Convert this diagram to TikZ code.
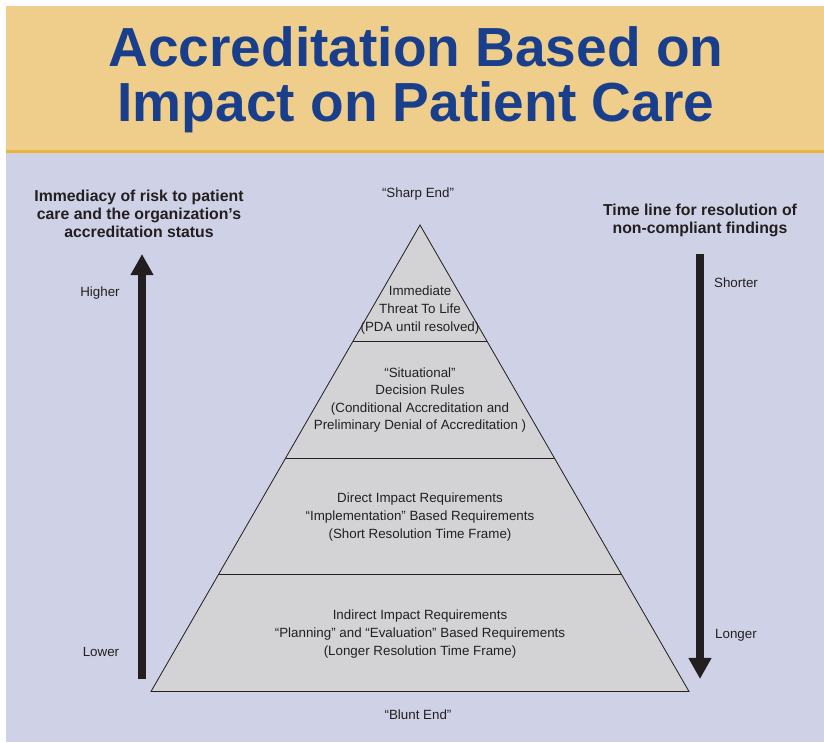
\documentclass[tikz,border=0pt]{standalone}
\usepackage{fontspec}
\setmainfont{Liberation Sans}
\usetikzlibrary{arrows.meta,calc}
\definecolor{bandgold}{RGB}{239,205,138}
\definecolor{rulegold}{RGB}{232,181,58}
\definecolor{panel}{RGB}{207,209,230}
\definecolor{tiergray}{RGB}{211,211,213}
\definecolor{titleblue}{RGB}{24,62,140}
\definecolor{ink}{RGB}{35,31,32}
\tikzset{
    titletext/.style={align=center, font=\fontsize{47}{47}\selectfont\bfseries, text=titleblue, inner sep=0},
    heading/.style={align=center, font=\fontsize{13.5}{15.4}\selectfont\bfseries, text=ink, inner sep=0},
    tiertext/.style={align=center, font=\fontsize{11.4}{15}\selectfont, text=ink, inner sep=0},
    tag/.style={font=\fontsize{11.4}{14}\selectfont, text=ink, inner sep=0},
    tier/.style={fill=tiergray, draw=ink, line width=0.7pt, line join=miter},
    bigarrow/.style={line width=6.4pt, ink, -{Triangle[length=18pt, width=18.5pt]}},
}

\begin{document}
\begin{tikzpicture}[x=0.03cm, y=-0.03cm]
    \useasboundingbox (0,0) rectangle (824,742);
    \fill[white] (0,0) rectangle (824,742);
    % title band and panel
    \fill[bandgold] (6,6) rectangle (824,151);
    \fill[panel] (6,151) rectangle (824,742);
    \draw[rulegold, line width=2.5pt] (6,151.5) -- (824,151.5);
    \node[titletext] (title) at (416,80) {Accreditation Based on\\Impact on Patient Care};

    % pyramid
    \coordinate (apex) at (420,225);
    \coordinate (bl) at (151,691.5);
    \coordinate (br) at (689,691.5);
    \filldraw[tier] (apex) -- (br) -- (bl) -- cycle;
    \foreach \f in {0.25,0.5,0.75}
        \draw[ink, line width=0.7pt] ($(apex)!\f!(bl)$) -- ($(apex)!\f!(br)$);

    \node[tiertext] (life) at (420,310) {Immediate\\Threat To Life\\(PDA until resolved)};
    \node[tiertext] (rules) at (420,400) {“Situational”\\Decision Rules\\(Conditional Accreditation and\\Preliminary Denial of Accreditation )};
    \node[tiertext] (direct) at (420,517) {Direct Impact Requirements\\“Implementation” Based Requirements\\(Short Resolution Time Frame)};
    \node[tiertext] (indirect) at (420,634) {Indirect Impact Requirements\\“Planning” and “Evaluation” Based Requirements\\(Longer Resolution Time Frame)};
    \node[tag] (sharp) at (418,194) {“Sharp End”};
    \node[tag] (blunt) at (418,715) {“Blunt End”};

    % risk axis
    \coordinate (riskbot) at (142,679);
    \coordinate (risktop) at (142,254);
    \draw[bigarrow] (riskbot) -- (risktop);
    \node[tag] (higher) at (100,293) {Higher};
    \node[tag] (lower) at (101,652) {Lower};
    \node[heading] (risk) at (139,214) {Immediacy of risk to patient\\care and the organization’s\\accreditation status};

    % time axis
    \coordinate (timetop) at (700,254);
    \coordinate (timebot) at (700,679);
    \draw[bigarrow] (timetop) -- (timebot);
    \node[tag] (shorter) at (736,283) {Shorter};
    \node[tag] (longer) at (736,635) {Longer};
    \node[heading] (timeline) at (700,220.5) {Time line for resolution of\\non-compliant findings};
\end{tikzpicture}
\end{document}
